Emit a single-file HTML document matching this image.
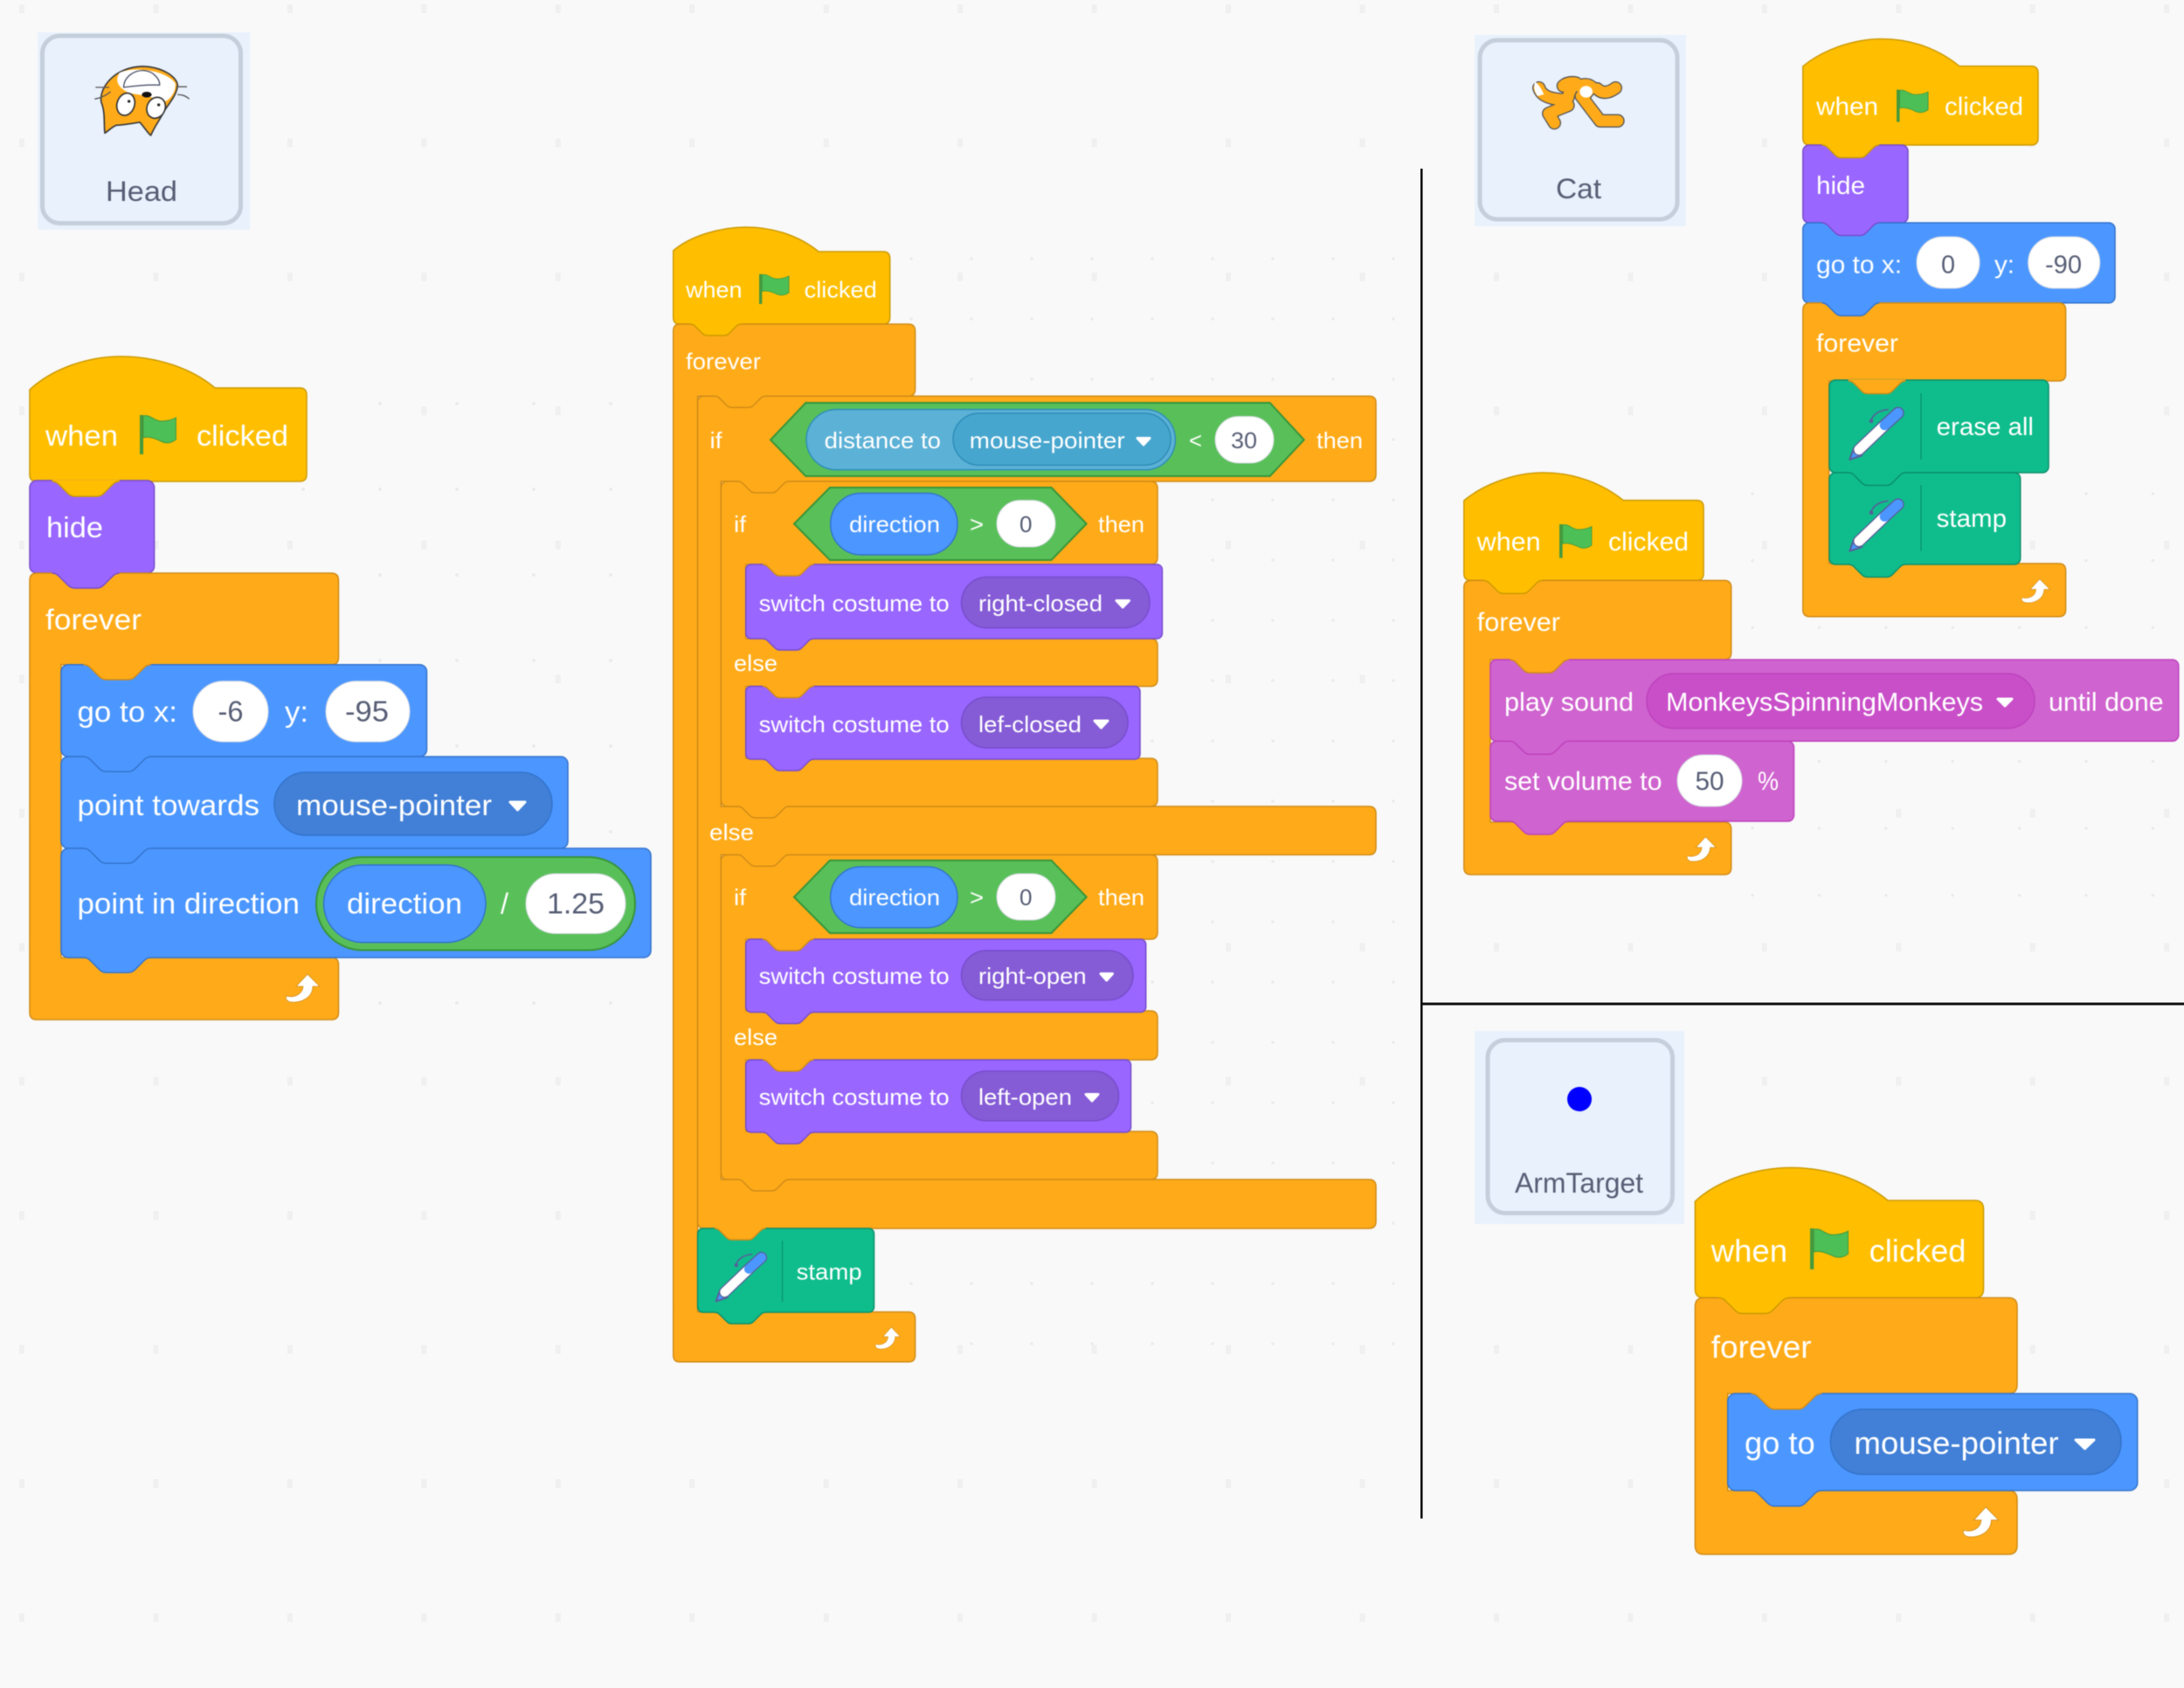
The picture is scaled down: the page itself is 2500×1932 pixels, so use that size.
<!DOCTYPE html>
<html lang="en">
<head>
<meta charset="utf-8">
<title>Scratch scripts</title>
<style>
html,body{margin:0;padding:0;background:#f9f9f9}
svg{display:block}
text{font-family:"Liberation Sans",Arial,sans-serif;fill:#fff}
.y{fill:#ffbf00;stroke:#cc9900;stroke-width:1.5}
.o{fill:#ffab19;stroke:#cf8b17;stroke-width:1.5}
.p{fill:#9966ff;stroke:#774dcb;stroke-width:1.5}
.b{fill:#4c97ff;stroke:#3373cc;stroke-width:1.5}
.g{fill:#59c059;stroke:#389438;stroke-width:2}
.t{fill:#0fbd8c;stroke:#0b8e69;stroke-width:1.5}
.m{fill:#cf63cf;stroke:#bd42bd;stroke-width:1.5}
.i{fill:#fff;stroke:#d4d8e0;stroke-width:1}
.db{fill:#4280d7;stroke:#3373cc;stroke-width:1.5}
.dp{fill:#855cd6;stroke:#774dcb;stroke-width:1.5}
.dm{fill:#c94fc9;stroke:#bd42bd;stroke-width:1.5}
.ds{fill:#47a6ce;stroke:#2e8eb8;stroke-width:1.5}
.ls{fill:#5cb1d6;stroke:#2e8eb8;stroke-width:1.5}
.tri{fill:#fff;stroke:#fff;stroke-width:3;stroke-linejoin:round}
#n path{vector-effect:non-scaling-stroke}
.card{fill:#e9f1fc}
.cb{fill:#e9f1fc;stroke:#c5cfdb;stroke-width:5}
.cl text,text.cl{fill:#575e75;font-size:32px}
text.a{font-size:33px}text.c{font-size:26px}text.d{font-size:29px}text.e{font-size:30px}text.f{font-size:36px}
text.n{fill:#575e75}
.div{stroke:#0b8e69;stroke-width:1.2}
</style>
</head>
<body>
<svg xmlns="http://www.w3.org/2000/svg" width="2500" height="1932" viewBox="0 0 2500 1932">
<defs>
<g id="n">
<path stroke="none" d="M12 -.8H48V0c-2 0-3 1-4 2l-4 4c-1 1-2 2-4 2h-12c-2 0-3-1-4-2l-4-4c-1-1-2-2-4-2z"/>
<path fill="none" d="M12 0c2 0 3 1 4 2l4 4c1 1 2 2 4 2h12c2 0 3-1 4-2l4-4c1-1 2-2 4-2"/>
</g>
<g id="fl">
<rect x="0" y="0" width="4" height="45" fill="#45993d"/>
<path d="M4 1C12-1 16 7 24 7C30 7 36 6 41 3V28C36 32 30 33 24 30C18 27 10 24 4 26Z" fill="#4cbf56" stroke="#45993d" stroke-width="1"/>
</g>
<path id="la" d="M26 0L40 14L32 14C32 26 20 33 8 32C3 32 0 28 2 25C10 27 20 24 21 14L13 14Z" fill="#fff" stroke="#cf8b17" stroke-width=".8"/>
<g id="pen" fill="none">
<path d="M75 48C80 25 105 10 135 8" stroke="#575e99" stroke-width="5"/>
<circle cx="76" cy="48" r="7" fill="#575e99"/>
<path d="M2 180L16 140L44 166Z" fill="#4c97ff" stroke="#575e99" stroke-width="6" stroke-linejoin="round"/>
<path d="M34 146L120 64" stroke="#575e99" stroke-width="42" stroke-linecap="round"/>
<path d="M115 68L168 20" stroke="#575e99" stroke-width="42" stroke-linecap="round"/>
<path d="M34 146L120 64" stroke="#fff" stroke-width="34" stroke-linecap="round"/>
<path d="M122 62L168 20" stroke="#4c97ff" stroke-width="34" stroke-linecap="round"/>
</g>
<pattern id="d1" patternUnits="userSpaceOnUse" x="21" y="4" width="153.45" height="153.45"><rect x="-3" y="-5" width="6" height="10" fill="#f0f0f0" transform="translate(4,6)"/></pattern>
<pattern id="d2" patternUnits="userSpaceOnUse" x="433" y="460" width="88" height="98"><circle cx="2" cy="2" r="2" fill="#ececec"/></pattern>
<pattern id="d3" patternUnits="userSpaceOnUse" x="1041" y="294" width="69" height="69"><circle cx="2" cy="2" r="1.8" fill="#ececec"/></pattern>
<pattern id="d4" patternUnits="userSpaceOnUse" x="2004" y="563" width="76.4" height="76.6"><circle cx="2" cy="2" r="1.8" fill="#ececec"/></pattern>
</defs>

<rect width="2500" height="1932" fill="#f9f9f9"/>
<rect width="2500" height="1932" fill="url(#d1)"/>
<rect x="300" y="440" width="460" height="770" fill="url(#d2)"/>
<rect x="1040" y="290" width="560" height="1270" fill="url(#d3)"/>
<rect x="2000" y="560" width="500" height="480" fill="url(#d4)"/>

<!-- dividers -->
<rect x="1626" y="193" width="2.5" height="1545" fill="#000"/>
<rect x="1628" y="1147.5" width="872" height="3" fill="#111"/>

<g style="filter:blur(.5px)">
<!-- Head card -->
<rect class="card" x="43.3" y="37" width="242.7" height="226"/>
<rect class="cb" x="48.5" y="41" width="227" height="214.5" rx="20"/>
<text class="cl" x="121" y="230" textLength="82" lengthAdjust="spacingAndGlyphs">Head</text>
<g transform="translate(30,30) scale(.3333)">
<path d="M270 367C266 335 272 295 258 262C248 215 300 140 400 138C470 140 520 175 520 205C515 240 490 265 475 290C460 320 440 345 428 375C415 365 405 345 390 330C360 335 330 340 310 340C295 345 285 358 270 367Z" fill="#ffab19" stroke="#3a3a3a" stroke-width="5" stroke-linejoin="round"/>
<path d="M320 160C360 140 470 145 512 195C515 225 495 250 478 258C440 245 390 235 355 230C325 215 300 195 320 160Z" fill="#fff"/>
<path d="M335 210C335 175 370 150 405 152C440 155 460 185 458 202C420 200 370 205 335 210Z" fill="#fff" stroke="#4a5068" stroke-width="4"/>
<ellipse cx="414" cy="235" rx="17" ry="10" fill="#111"/>
<ellipse cx="342" cy="268" rx="30" ry="39" transform="rotate(18 342 268)" fill="#fff" stroke="#333" stroke-width="5"/>
<ellipse cx="446" cy="280" rx="31" ry="37" transform="rotate(25 446 280)" fill="#fff" stroke="#333" stroke-width="5"/>
<circle cx="353" cy="258" r="5" fill="#222"/><circle cx="455" cy="270" r="5" fill="#222"/>
<path d="M238 210H285M235 250Q265 245 290 225M515 208H552M520 235Q545 235 560 250" fill="none" stroke="#555" stroke-width="4"/>
</g>

<!-- Cat card -->
<rect class="card" x="1688" y="40" width="242" height="219"/>
<rect class="cb" x="1694" y="46" width="226" height="205" rx="20"/>
<text class="cl" x="1781" y="227" textLength="52" lengthAdjust="spacingAndGlyphs">Cat</text>
<g transform="translate(1680,30) scale(.3333)" fill="none" stroke-linecap="round" stroke-linejoin="round">
<g stroke="#555" stroke-width="46">
<path d="M245 212Q255 248 325 252"/><path d="M345 272Q300 290 278 300L298 332"/><path d="M390 240L455 325H516"/><path d="M445 215Q470 240 508 212"/><path d="M328 205Q345 190 372 195Q350 215 345 245"/><path d="M380 205Q410 195 425 208L400 240"/>
</g>
<g stroke="#ffab19" stroke-width="38">
<path d="M245 212Q255 248 325 252"/><path d="M345 272Q300 290 278 300L298 332"/><path d="M390 240L455 325H516"/><path d="M445 215Q470 240 508 212"/><path d="M328 205Q345 190 372 195Q350 215 345 245"/><path d="M380 205Q410 195 425 208L400 240"/>
</g>
<path d="M232 190Q250 205 262 234L240 240Q222 215 232 190Z" fill="#fff"/>
<ellipse cx="407" cy="225" rx="22" ry="20" fill="#fff"/>
</g>

<!-- ArmTarget card -->
<rect class="card" x="1688" y="1180" width="240" height="221"/>
<rect class="cb" x="1703" y="1190.5" width="211.5" height="198" rx="20"/>
<ellipse cx="1808" cy="1258" rx="14" ry="14" fill="#0000ff"/>
<text class="cl" x="1734" y="1365" textLength="147" lengthAdjust="spacingAndGlyphs">ArmTarget</text>

<!-- ===== Script A ===== -->
<path class="y" d="M34 446C60 422 100 408 139 408C180 408 220 422 246 444H343Q351 444 351 452V543Q351 551 343 551H42Q34 551 34 543Z"/>
<rect class="p" x="34" y="550" width="142.6" height="106" rx="8"/>
<use href="#n" class="y" transform="translate(34,551) scale(2.14)"/>
<path class="o" d="M42 656H379.5Q387.5 656 387.5 664V752.7Q387.5 760.7 379.5 760.7H70V1096H379.5Q387.5 1096 387.5 1104V1159Q387.5 1167 379.5 1167H42Q34 1167 34 1159V664Q34 656 42 656Z"/>
<use href="#n" class="p" transform="translate(34,656) scale(2.14)"/>
<rect class="b" x="70" y="760.7" width="418.5" height="105.3" rx="8"/>
<use href="#n" class="o" transform="translate(70,760.7) scale(2.14)"/>
<rect class="b" x="70" y="866" width="580" height="105" rx="8"/>
<use href="#n" class="b" transform="translate(70,866) scale(2.14)"/>
<rect class="b" x="70" y="971" width="675" height="125" rx="8"/>
<use href="#n" class="b" transform="translate(70,971) scale(2.14)"/>
<use href="#n" class="b" transform="translate(70,1096) scale(2.14)"/>
<text class="a" x="52" y="510" textLength="83" lengthAdjust="spacingAndGlyphs">when</text>
<use href="#fl" transform="translate(160,475) scale(1.01,1)"/>
<text class="a" x="225" y="510" textLength="105" lengthAdjust="spacingAndGlyphs">clicked</text>
<text class="a" x="53" y="615" textLength="65" lengthAdjust="spacingAndGlyphs">hide</text>
<text class="a" x="52" y="720.7" textLength="110" lengthAdjust="spacingAndGlyphs">forever</text>
<text class="a" x="88.5" y="826" textLength="114.5" lengthAdjust="spacingAndGlyphs">go to x:</text>
<rect class="i" x="221" y="779.6" width="86" height="69.4" rx="34.7"/>
<text class="a n" x="249.5" y="825.7" textLength="29" lengthAdjust="spacingAndGlyphs">-6</text>
<text class="a" x="326" y="826" textLength="27" lengthAdjust="spacingAndGlyphs">y:</text>
<rect class="i" x="373" y="779.6" width="96" height="69.4" rx="34.7"/>
<text class="a n" x="395" y="825.7" textLength="50" lengthAdjust="spacingAndGlyphs">-95</text>
<text class="a" x="88.5" y="933" textLength="208.5" lengthAdjust="spacingAndGlyphs">point towards</text>
<rect class="db" x="314" y="884" width="318" height="72" rx="36"/>
<text class="a" x="339" y="933" textLength="224" lengthAdjust="spacingAndGlyphs">mouse-pointer</text>
<path class="tri" d="M584 918H601L592.5 927Z"/>
<text class="a" x="88.5" y="1045.7" textLength="254.5" lengthAdjust="spacingAndGlyphs">point in direction</text>
<rect class="g" x="362" y="981" width="365" height="106.5" rx="53"/>
<rect class="b" x="370.6" y="990" width="185.4" height="88.6" rx="44.3"/>
<text class="a" x="397" y="1045.7" textLength="132" lengthAdjust="spacingAndGlyphs">direction</text>
<text class="a" x="573" y="1045.7" textLength="9" lengthAdjust="spacingAndGlyphs">/</text>
<rect class="i" x="602" y="1000" width="114" height="68.5" rx="34"/>
<text class="a n" x="626" y="1045.7" textLength="66" lengthAdjust="spacingAndGlyphs">1.25</text>
<use href="#la" transform="translate(326,1115)"/>

<!-- ===== Script B ===== -->
<path class="y" d="M770.7 287C790 270 825 260 854 260C885 260 915 270 937 288H1011Q1018.7 288 1018.7 296V363Q1018.7 371 1011 371H778Q770.7 371 770.7 363Z"/>
<path class="o" d="M778 371H1040Q1047.6 371 1047.6 379V445.4Q1047.6 453.4 1040 453.4H798.6V1501.6H1040Q1047.6 1501.6 1047.6 1509.6V1551Q1047.6 1558.8 1040 1558.8H778Q770.7 1558.8 770.7 1551V379Q770.7 371 778 371Z"/>
<use href="#n" class="y" transform="translate(770.7,371) scale(1.62)"/>
<path class="o" d="M806 453.4H1567Q1575 453.4 1575 461V543Q1575 551 1567 551H825.3V923H1567Q1575 923 1575 931V970Q1575 978.4 1567 978.4H825.3V1350H1567Q1575 1350 1575 1358V1398Q1575 1406 1567 1406H806Q798.6 1406 798.6 1398V461Q798.6 453.4 806 453.4Z"/>
<use href="#n" class="o" transform="translate(798.6,453.4) scale(1.62)"/>
<path class="o" d="M833 551H1317Q1325 551 1325 559V638Q1325 646 1317 646H853.7V731H1317Q1325 731 1325 739V777.5Q1325 785.5 1317 785.5H853.7V868H1317Q1325 868 1325 876V915Q1325 923 1317 923H833Q825.3 923 825.3 915V559Q825.3 551 833 551Z"/>
<use href="#n" class="o" transform="translate(825.3,551) scale(1.62)"/>
<use href="#n" class="o" transform="translate(825.3,923) scale(1.62)"/>
<path class="o" d="M833 978.4H1317Q1325 978.4 1325 986.4V1067Q1325 1075 1317 1075H853.7V1157H1317Q1325 1157 1325 1165V1205Q1325 1213 1317 1213H853.7V1295H1317Q1325 1295 1325 1303V1342Q1325 1350 1317 1350H833Q825.3 1350 825.3 1342V986.4Q825.3 978.4 833 978.4Z"/>
<use href="#n" class="o" transform="translate(825.3,978.4) scale(1.62)"/>
<use href="#n" class="o" transform="translate(825.3,1350) scale(1.62)"/>

<rect class="p" x="853.7" y="646" width="476.7" height="85" rx="6"/>
<use href="#n" class="o" transform="translate(853.7,646) scale(1.62)"/>
<use href="#n" class="p" transform="translate(853.7,731) scale(1.62)"/>
<rect class="p" x="853.7" y="785.5" width="451.3" height="83.5" rx="6"/>
<use href="#n" class="o" transform="translate(853.7,785.5) scale(1.62)"/>
<use href="#n" class="p" transform="translate(853.7,869) scale(1.62)"/>
<rect class="p" x="853.7" y="1075" width="458" height="83.5" rx="6"/>
<use href="#n" class="o" transform="translate(853.7,1075) scale(1.62)"/>
<use href="#n" class="p" transform="translate(853.7,1158.5) scale(1.62)"/>
<rect class="p" x="853.7" y="1213" width="440.8" height="83" rx="6"/>
<use href="#n" class="o" transform="translate(853.7,1213) scale(1.62)"/>
<use href="#n" class="p" transform="translate(853.7,1296) scale(1.62)"/>

<rect class="t" x="798.6" y="1406" width="201.9" height="96" rx="6"/>
<use href="#n" class="o" transform="translate(798.6,1406) scale(1.62)"/>
<use href="#n" class="t" transform="translate(798.6,1502) scale(1.62)"/>

<text class="c" x="785" y="340.5" textLength="64.5" lengthAdjust="spacingAndGlyphs">when</text>
<use href="#fl" transform="translate(869,313.7) scale(.83,.76)"/>
<text class="c" x="920.7" y="340.5" textLength="83" lengthAdjust="spacingAndGlyphs">clicked</text>
<text class="c" x="785" y="422.5" textLength="86" lengthAdjust="spacingAndGlyphs">forever</text>

<text class="c" x="812.5" y="513" textLength="14" lengthAdjust="spacingAndGlyphs">if</text>
<path class="g" d="M882 503.4L922.3 461H1453.6L1492.7 503.4L1453.6 545H922.3Z"/>
<rect class="ls" x="923" y="468.6" width="422.4" height="69.2" rx="34.6"/>
<text class="c" x="943.7" y="513" textLength="133.3" lengthAdjust="spacingAndGlyphs">distance to</text>
<rect class="ds" x="1091" y="473" width="249" height="59.4" rx="29.7"/>
<text class="c" x="1109.8" y="513" textLength="177.8" lengthAdjust="spacingAndGlyphs">mouse-pointer</text>
<path class="tri" d="M1302 501.5H1316L1309 509Z"/>
<text class="c" x="1361" y="513" textLength="15" lengthAdjust="spacingAndGlyphs">&lt;</text>
<rect class="i" x="1391" y="476.6" width="67" height="53.4" rx="26.7"/>
<text class="c n" x="1409" y="513" textLength="30" lengthAdjust="spacingAndGlyphs">30</text>
<text class="c" x="1507" y="513" textLength="53" lengthAdjust="spacingAndGlyphs">then</text>

<text class="c" x="840" y="609" textLength="14" lengthAdjust="spacingAndGlyphs">if</text>
<path class="g" d="M909 599.5L950 558H1203.5L1243.7 599.5L1203.5 641H950Z"/>
<rect class="b" x="950.7" y="564.5" width="145.3" height="70.5" rx="35"/>
<text class="c" x="972" y="609" textLength="104" lengthAdjust="spacingAndGlyphs">direction</text>
<text class="c" x="1110" y="609" textLength="16" lengthAdjust="spacingAndGlyphs">&gt;</text>
<rect class="i" x="1141" y="572.6" width="67" height="53.4" rx="26.7"/>
<text class="c n" x="1167" y="609" textLength="14.5" lengthAdjust="spacingAndGlyphs">0</text>
<text class="c" x="1257" y="609" textLength="53" lengthAdjust="spacingAndGlyphs">then</text>

<text class="c" x="868.7" y="699.5" textLength="218" lengthAdjust="spacingAndGlyphs">switch costume to</text>
<rect class="dp" x="1100.6" y="660.5" width="215.4" height="58.1" rx="29"/>
<text class="c" x="1120" y="699.5" textLength="142" lengthAdjust="spacingAndGlyphs">right-closed</text>
<path class="tri" d="M1278 687.5H1292.5L1285.2 695Z"/>
<text class="c" x="840" y="768" textLength="50" lengthAdjust="spacingAndGlyphs">else</text>
<text class="c" x="868.7" y="838" textLength="218" lengthAdjust="spacingAndGlyphs">switch costume to</text>
<rect class="dp" x="1100.6" y="798" width="190.4" height="58" rx="29"/>
<text class="c" x="1120" y="838" textLength="118" lengthAdjust="spacingAndGlyphs">lef-closed</text>
<path class="tri" d="M1253 825H1268L1260.5 833Z"/>
<text class="c" x="812" y="961.6" textLength="51" lengthAdjust="spacingAndGlyphs">else</text>

<text class="c" x="840" y="1036" textLength="14" lengthAdjust="spacingAndGlyphs">if</text>
<path class="g" d="M909 1026.7L950 984.7H1203.5L1243.7 1026.7L1203.5 1068H950Z"/>
<rect class="b" x="950.7" y="992" width="145.3" height="69.7" rx="34.8"/>
<text class="c" x="972" y="1036" textLength="104" lengthAdjust="spacingAndGlyphs">direction</text>
<text class="c" x="1110" y="1036" textLength="16" lengthAdjust="spacingAndGlyphs">&gt;</text>
<rect class="i" x="1141" y="1000" width="67" height="53" rx="26.5"/>
<text class="c n" x="1167" y="1036" textLength="14.5" lengthAdjust="spacingAndGlyphs">0</text>
<text class="c" x="1257" y="1036" textLength="53" lengthAdjust="spacingAndGlyphs">then</text>

<text class="c" x="868.7" y="1126" textLength="218" lengthAdjust="spacingAndGlyphs">switch costume to</text>
<rect class="dp" x="1100.6" y="1088" width="196.4" height="56.6" rx="28.3"/>
<text class="c" x="1120" y="1126" textLength="123.7" lengthAdjust="spacingAndGlyphs">right-open</text>
<path class="tri" d="M1260 1114.5H1273.5L1266.7 1122Z"/>
<text class="c" x="840" y="1196" textLength="50" lengthAdjust="spacingAndGlyphs">else</text>
<text class="c" x="868.7" y="1264.6" textLength="218" lengthAdjust="spacingAndGlyphs">switch costume to</text>
<rect class="dp" x="1100.6" y="1226" width="180" height="56.7" rx="28.3"/>
<text class="c" x="1120" y="1264.6" textLength="107" lengthAdjust="spacingAndGlyphs">left-open</text>
<path class="tri" d="M1243 1252.5H1257L1250 1260Z"/>

<use href="#pen" transform="translate(819,1433) scale(.3135)"/>
<line class="div" x1="895.5" y1="1420" x2="895.5" y2="1490"/>
<text class="c" x="911.6" y="1464.5" textLength="75" lengthAdjust="spacingAndGlyphs">stamp</text>
<use href="#la" transform="translate(1001,1519) scale(.74,.78)"/>

<!-- ===== Script C ===== -->
<path class="y" d="M2063.8 76C2085 58 2120 44.6 2154 44.6C2190 44.6 2220 57 2243 75.8H2325Q2333 75.8 2333 83.8V158Q2333 166 2325 166H2071.8Q2063.8 166 2063.8 158Z"/>
<rect class="p" x="2063.8" y="166" width="120.2" height="89" rx="7"/>
<use href="#n" class="y" transform="translate(2063.8,166) scale(1.82)"/>
<rect class="b" x="2063.8" y="255" width="357.2" height="91.8" rx="7"/>
<use href="#n" class="p" transform="translate(2063.8,255) scale(1.82)"/>
<path class="o" d="M2071.8 346.8H2356.6Q2364.6 346.8 2364.6 354.8V428Q2364.6 436 2356.6 436H2093.7V645H2356.6Q2364.6 645 2364.6 653V697.7Q2364.6 705.7 2356.6 705.7H2071.8Q2063.8 705.7 2063.8 697.7V354.8Q2063.8 346.8 2071.8 346.8Z"/>
<use href="#n" class="b" transform="translate(2063.8,346.8) scale(1.82)"/>
<rect class="t" x="2094" y="435" width="251" height="106" rx="7"/>
<use href="#n" class="o" transform="translate(2094,436) scale(1.82)"/>
<rect class="t" x="2094" y="541" width="218.7" height="105" rx="7"/>
<use href="#n" class="t" transform="translate(2094,541) scale(1.82)"/>
<use href="#n" class="t" transform="translate(2094,646) scale(1.82)"/>
<text class="d" x="2079" y="131.6" textLength="71" lengthAdjust="spacingAndGlyphs">when</text>
<use href="#fl" transform="translate(2171,102.6) scale(.88,.82)"/>
<text class="d" x="2226" y="131.6" textLength="90" lengthAdjust="spacingAndGlyphs">clicked</text>
<text class="d" x="2079" y="221.8" textLength="56" lengthAdjust="spacingAndGlyphs">hide</text>
<text class="d" x="2079" y="312.4" textLength="98" lengthAdjust="spacingAndGlyphs">go to x:</text>
<rect class="i" x="2194" y="271" width="72" height="59" rx="29.5"/>
<text class="d n" x="2222" y="312.4" textLength="16" lengthAdjust="spacingAndGlyphs">0</text>
<text class="d" x="2283" y="312.4" textLength="23" lengthAdjust="spacingAndGlyphs">y:</text>
<rect class="i" x="2321.6" y="271" width="82.1" height="59" rx="29.5"/>
<text class="d n" x="2341" y="312.4" textLength="42" lengthAdjust="spacingAndGlyphs">-90</text>
<text class="d" x="2079" y="402.6" textLength="94" lengthAdjust="spacingAndGlyphs">forever</text>
<use href="#pen" transform="translate(2116.7,466) scale(.3333)"/>
<line class="div" x1="2199" y1="450" x2="2199" y2="526"/>
<text class="d" x="2216.7" y="498" textLength="111.3" lengthAdjust="spacingAndGlyphs">erase all</text>
<use href="#pen" transform="translate(2116.7,570.7) scale(.3333)"/>
<line class="div" x1="2199" y1="555" x2="2199" y2="630.7"/>
<text class="d" x="2216.7" y="603" textLength="80.3" lengthAdjust="spacingAndGlyphs">stamp</text>
<use href="#la" transform="translate(2313,662.7) scale(.84,.85)"/>

<!-- ===== Script D ===== -->
<path class="y" d="M1675.8 573C1697 555 1733 541 1766.5 541C1803 541 1835 554 1858 572.6H1942Q1950 572.6 1950 580.6V656.4Q1950 664.4 1942 664.4H1683.8Q1675.8 664.4 1675.8 656.4Z"/>
<path class="o" d="M1683.8 664.4H1973.7Q1981.7 664.4 1981.7 672.4V747Q1981.7 755 1973.7 755H1706V941H1973.7Q1981.7 941 1981.7 949V993Q1981.7 1001 1973.7 1001H1683.8Q1675.8 1001 1675.8 993V672.4Q1675.8 664.4 1683.8 664.4Z"/>
<use href="#n" class="y" transform="translate(1675.8,664.4) scale(1.87)"/>
<rect class="m" x="1706" y="755" width="787.8" height="93.3" rx="7"/>
<use href="#n" class="o" transform="translate(1706,755) scale(1.87)"/>
<rect class="m" x="1706" y="848.3" width="347.5" height="91.7" rx="7"/>
<use href="#n" class="m" transform="translate(1706,848.3) scale(1.87)"/>
<use href="#n" class="m" transform="translate(1706,940) scale(1.87)"/>
<text class="e" x="1690.7" y="630" textLength="72.9" lengthAdjust="spacingAndGlyphs">when</text>
<use href="#fl" transform="translate(1785,600) scale(.9,.86)"/>
<text class="e" x="1841" y="630" textLength="92" lengthAdjust="spacingAndGlyphs">clicked</text>
<text class="e" x="1690.7" y="722" textLength="95.3" lengthAdjust="spacingAndGlyphs">forever</text>
<text class="e" x="1722" y="813.3" textLength="148" lengthAdjust="spacingAndGlyphs">play sound</text>
<rect class="dm" x="1885" y="771" width="444" height="62.5" rx="31"/>
<text class="e" x="1907" y="813.3" textLength="363" lengthAdjust="spacingAndGlyphs">MonkeysSpinningMonkeys</text>
<path class="tri" d="M2287 800H2303L2295 808Z"/>
<text class="e" x="2345" y="813.3" textLength="131.6" lengthAdjust="spacingAndGlyphs">until done</text>
<text class="e" x="1722" y="904" textLength="180.5" lengthAdjust="spacingAndGlyphs">set volume to</text>
<rect class="i" x="1920" y="864" width="74" height="59" rx="29.5"/>
<text class="e n" x="1940.5" y="904" textLength="33" lengthAdjust="spacingAndGlyphs">50</text>
<text class="e" x="2012" y="904" textLength="24" lengthAdjust="spacingAndGlyphs">%</text>
<use href="#la" transform="translate(1930,957.7) scale(.86,.88)"/>

<!-- ===== Script E ===== -->
<path class="y" d="M1940.4 1375C1965 1352 2008 1336.5 2050.6 1336.5C2095 1336.5 2133 1351 2161 1374H2260.5Q2270.5 1374 2270.5 1384V1475.4Q2270.5 1485.4 2260.5 1485.4H1950.4Q1940.4 1485.4 1940.4 1475.4Z"/>
<path class="o" d="M1950.4 1485.4H2299Q2309 1485.4 2309 1495.4V1585Q2309 1595 2299 1595H1977.7V1706H2299Q2309 1706 2309 1716V1769Q2309 1779 2299 1779H1950.4Q1940.4 1779 1940.4 1769V1495.4Q1940.4 1485.4 1950.4 1485.4Z"/>
<use href="#n" class="y" transform="translate(1940.4,1485.4) scale(2.24)"/>
<rect class="b" x="1977.7" y="1595" width="469" height="111" rx="9"/>
<use href="#n" class="o" transform="translate(1977.7,1595) scale(2.24)"/>
<use href="#n" class="b" transform="translate(1977.7,1706) scale(2.24)"/>
<text class="f" x="1958.8" y="1443.8" textLength="87.2" lengthAdjust="spacingAndGlyphs">when</text>
<use href="#fl" transform="translate(2072,1406) scale(1.06,1.04)"/>
<text class="f" x="2139.6" y="1443.8" textLength="110.8" lengthAdjust="spacingAndGlyphs">clicked</text>
<text class="f" x="1958.8" y="1554" textLength="114.8" lengthAdjust="spacingAndGlyphs">forever</text>
<text class="f" x="1997" y="1664" textLength="80.6" lengthAdjust="spacingAndGlyphs">go to</text>
<rect class="db" x="2095.4" y="1613" width="332.6" height="74.5" rx="37"/>
<text class="f" x="2122.4" y="1664" textLength="234.2" lengthAdjust="spacingAndGlyphs">mouse-pointer</text>
<path class="tri" d="M2376 1648H2397L2386.5 1658Z"/>
<use href="#la" transform="translate(2245.8,1725) scale(1.05,1.06)"/>
</g>
</svg>
</body>
</html>
